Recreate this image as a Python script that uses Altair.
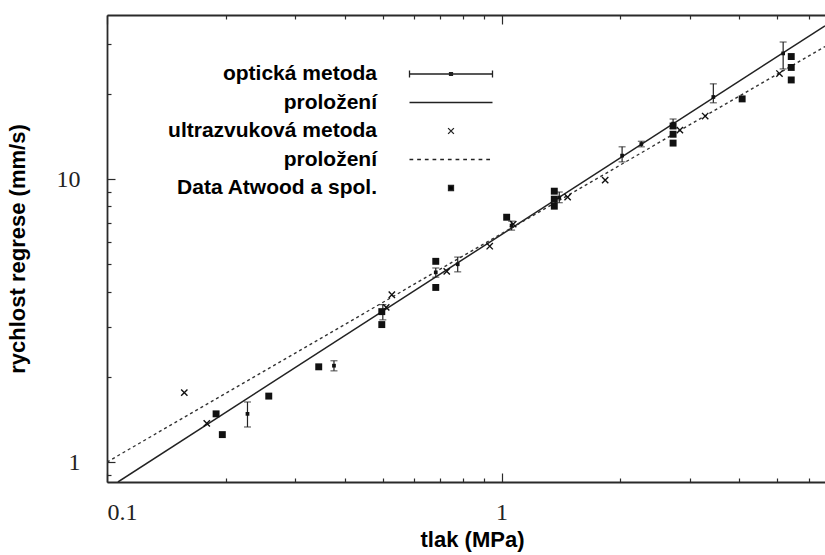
import altair as alt
import pandas as pd

# Optical method: pressure (MPa), regression rate (mm/s) and error-bar limits
opt_p = [0.227, 0.376, 0.50, 0.681, 0.774, 1.06, 1.40, 2.02, 2.26, 2.72, 3.44, 5.17]
opt_r = [1.48, 2.19, 3.38, 4.68, 5.00, 6.85, 8.60, 12.1, 13.3, 15.7, 19.5, 27.8]
opt_lo = [1.33, 2.10, 3.18, 4.50, 4.70, 6.60, 8.25, 11.5, 13.0, 15.1, 18.6, 24.5]
opt_hi = [1.63, 2.28, 3.60, 4.85, 5.30, 7.10, 9.00, 13.0, 13.6, 16.3, 21.7, 30.5]

# Ultrasound method
us_p = [0.157, 0.179, 0.51, 0.527, 0.726, 0.933, 1.07, 1.47, 1.83, 2.83, 3.28, 5.06]
us_r = [1.76, 1.37, 3.52, 3.90, 4.72, 5.79, 6.93, 8.63, 9.92, 14.9, 16.7, 23.6]

# Atwood et al. data
atw_p = [0.189, 0.196, 0.257, 0.344, 0.497, 0.497, 0.681, 0.681, 1.03, 1.36, 1.36,
         1.36, 2.72, 2.72, 2.72, 4.07, 5.42, 5.42, 5.42]
atw_r = [1.48, 1.25, 1.71, 2.17, 3.40, 3.06, 5.12, 4.14, 7.33, 9.06, 8.49,
         8.02, 15.4, 14.4, 13.4, 19.2, 27.1, 24.8, 22.4]

# Power-law fits (straight lines in log-log), end points
fit_opt_p = [0.1066, 6.6]
fit_opt_r = [0.85, 34.8]
fit_us_p = [0.1, 6.6]
fit_us_r = [1.0, 29.4]

legend_keys = ["a", "b", "c", "d", "e"]
legend_text = ["optická metoda", "proložení", "ultrazvuková metoda", "proložení",
               "Data Atwood a spol."]

x_ticks_minor = [0.2, 0.3, 0.4, 0.5, 0.6, 0.7, 0.8, 0.9, 2, 3, 4, 5, 6]
y_ticks_minor = [0.9, 2, 3, 4, 5, 6, 7, 8, 9, 20, 30]

opt = pd.DataFrame({"p": opt_p, "r": opt_r, "lo": opt_lo, "hi": opt_hi})
caps = pd.DataFrame({"p": opt_p + opt_p, "r": opt_lo + opt_hi})
us = pd.DataFrame({"p": us_p, "r": us_r})
atw = pd.DataFrame({"p": atw_p, "r": atw_r})
fit_opt = pd.DataFrame({"p": fit_opt_p, "r": fit_opt_r})
fit_us = pd.DataFrame({"p": fit_us_p, "r": fit_us_r})
leg = pd.DataFrame({"k": legend_keys, "label": legend_text})

xs = alt.Scale(type="log", domain=[0.1, 6.6], nice=False)
ys = alt.Scale(type="log", domain=[0.85, 38], nice=False)

AX = "#2a2a2a"
SANS = "Liberation Sans"


def tick_axis(orient, values, size, domain=False):
    return alt.Axis(orient=orient, values=values, labels=False, title=None,
                    grid=False, domain=domain, domainColor=AX, domainWidth=1.8,
                    tickColor=AX, tickWidth=1.2, tickSize=alt.ExprRef(expr=str(-size)))


x_label_axis = alt.Axis(orient="bottom", values=[0.1, 1], ticks=False, grid=False,
                        domainColor=AX, domainWidth=1.8, format="~g",
                        labelFont="Liberation Serif", labelFontSize=24,
                        labelColor="#222", labelPadding=18,
                        title="tlak (MPa)", titleFont=SANS,
                        titleFontSize=22, titleFontWeight="bold", titleColor="black",
                        titlePadding=5, titleX=365)
y_label_axis = alt.Axis(orient="left", values=[1, 10], ticks=False, grid=False,
                        domainColor=AX, domainWidth=1.8, format="~g",
                        labelFont="Liberation Serif", labelFontSize=24,
                        labelColor="#222", labelPadding=27,
                        title="rychlost regrese (mm/s)", titleFont=SANS,
                        titleFontSize=22, titleFontWeight="bold", titleColor="black",
                        titlePadding=27)

fit_solid = alt.Chart(fit_opt).mark_line(color="#222", strokeWidth=1.5, clip=True).encode(
    x=alt.X("p:Q", scale=xs, axis=x_label_axis),
    y=alt.Y("r:Q", scale=ys, axis=y_label_axis),
)

fit_dash = alt.Chart(fit_us).mark_line(color="#333", strokeWidth=1.4,
                                       strokeDash=[3, 3], clip=True).encode(
    x=alt.X("p:Q", scale=xs, axis=tick_axis("bottom", x_ticks_minor, 4)),
    y=alt.Y("r:Q", scale=ys, axis=tick_axis("left", y_ticks_minor, 4)),
)

err = alt.Chart(opt).mark_rule(color="#222", strokeWidth=1.2).encode(
    x=alt.X("p:Q", scale=xs, axis=tick_axis("top", x_ticks_minor, 4, domain=True)),
    y=alt.Y("lo:Q", scale=ys, axis=tick_axis("left", [1, 10], 8)),
    y2="hi:Q",
)

err_caps = alt.Chart(caps).mark_tick(orient="horizontal", color="#222", size=7,
                                      thickness=1.2).encode(
    x=alt.X("p:Q", scale=xs, axis=tick_axis("bottom", [0.1, 1], 9)),
    y=alt.Y("r:Q", scale=ys, axis=None),
)

opt_pts = alt.Chart(opt).mark_point(shape="square", filled=True, color="#111",
                                    size=14, opacity=1).encode(
    x=alt.X("p:Q", scale=xs, axis=tick_axis("top", [0.1, 1], 9)),
    y=alt.Y("r:Q", scale=ys, axis=None),
)

us_pts = alt.Chart(us).mark_point(shape="M-1,-1L1,1M-1,1L1,-1", color="#111",
                                  size=40, strokeWidth=1.4, opacity=1).encode(
    x=alt.X("p:Q", scale=xs, axis=None),
    y=alt.Y("r:Q", scale=ys, axis=None),
)

atw_pts = alt.Chart(atw).mark_point(shape="square", filled=True, color="#111",
                                    size=48, opacity=1).encode(
    x=alt.X("p:Q", scale=xs, axis=None),
    y=alt.Y("r:Q", scale=ys, axis=None),
)

# Key inside the plot: labels on the left, glyphs on the right
dash_path = "".join(
    f"M{-1 + i * 0.185:.3f},0H{-1 + i * 0.185 + 0.09:.3f}" for i in range(11)
)
glyphs = [
    "M-1,0H1M-1,-0.085V0.085M1,-0.085V0.085M-0.035,-0.035H0.035V0.035H-0.035Z",
    "M-1,0H1",
    "M-0.07,-0.07L0.07,0.07M-0.07,0.07L0.07,-0.07",
    dash_path,
    "M-0.06,-0.06H0.06V0.06H-0.06Z",
]
key_y = alt.Y("k:N", scale=alt.Scale(type="point", domain=legend_keys,
                                     range=[59, 173], padding=0), axis=None)

key_text = alt.Chart(leg).mark_text(align="right", baseline="middle", font=SANS,
                                    fontSize=21, fontWeight="bold", color="black").encode(
    x=alt.value(270), y=key_y, text="label:N",
)

key_glyph = alt.Chart(leg).mark_point(fill="black", stroke="#222", strokeWidth=1.3,
                                      opacity=1, size=6889).encode(
    x=alt.value(344), y=key_y,
    shape=alt.Shape("k:N", scale=alt.Scale(domain=legend_keys, range=glyphs),
                    legend=None),
)

chart = alt.layer(
    fit_solid, fit_dash, err, err_caps, opt_pts, us_pts, atw_pts, key_text, key_glyph
).resolve_scale(y="independent").resolve_axis(
    x="independent", y="independent"
).properties(
    width=718, height=467,
    autosize=alt.AutoSizeParams(type="none"),
    padding={"left": 107, "top": 15, "right": 0, "bottom": 73},
).configure_view(stroke=None).configure(background="white")

chart.save("out.html", embed_options={"renderer": "svg", "actions": False})
